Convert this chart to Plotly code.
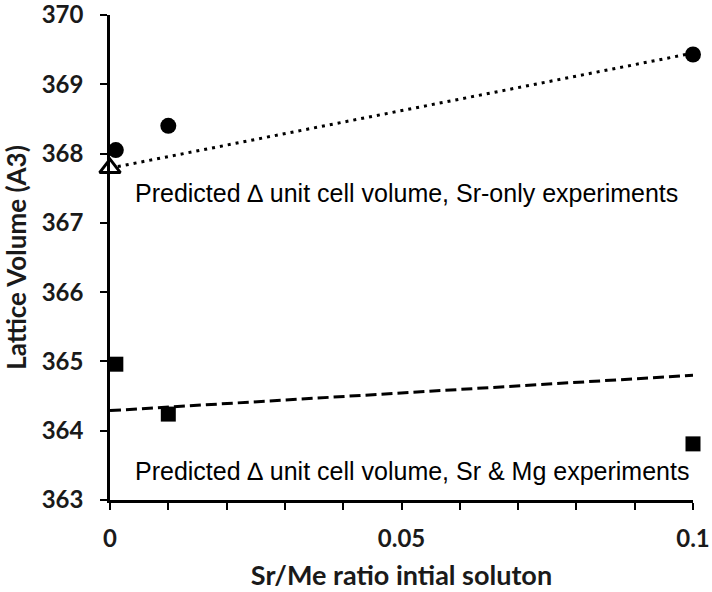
import plotly.graph_objects as go

# Data
sr_x = [0.001, 0.01, 0.1]
sr_y = [368.05, 368.40, 369.43]
srmg_x = [0.001, 0.01, 0.1]
srmg_y = [364.96, 364.24, 363.81]
pred_x = [0.0]
pred_y = [367.79]
sr_trend_x = [0.0, 0.1]
sr_trend_y = [367.79, 369.45]
srmg_trend_x = [0.0, 0.1]
srmg_trend_y = [364.29, 364.80]

fig = go.Figure()
fig.add_trace(go.Scatter(x=sr_trend_x, y=sr_trend_y, mode="lines",
                         line=dict(color="black", width=3, dash="3px,5px"),
                         cliponaxis=False, showlegend=False))
fig.add_trace(go.Scatter(x=srmg_trend_x, y=srmg_trend_y, mode="lines",
                         line=dict(color="black", width=3, dash="11px,5px"),
                         cliponaxis=False, showlegend=False))
fig.add_trace(go.Scatter(x=sr_x, y=sr_y, mode="markers",
                         marker=dict(symbol="circle", size=16, color="black"),
                         cliponaxis=False, showlegend=False))
fig.add_trace(go.Scatter(x=srmg_x, y=srmg_y, mode="markers",
                         marker=dict(symbol="square", size=15, color="black"),
                         cliponaxis=False, showlegend=False))
fig.add_trace(go.Scatter(x=pred_x, y=pred_y, mode="markers",
                         marker=dict(symbol="triangle-up", size=18, color="white",
                                     line=dict(color="black", width=3)),
                         cliponaxis=False, showlegend=False))

ann_font = dict(family="Liberation Sans, Arial, sans-serif", size=25, color="black")
fig.add_annotation(x=0.0039, y=367.43, xref="x", yref="y", xanchor="left", yanchor="middle",
                   text="Predicted \u2206 unit cell volume, Sr-only experiments",
                   showarrow=False, font=ann_font)
fig.add_annotation(x=0.0039, y=363.42, xref="x", yref="y", xanchor="left", yanchor="middle",
                   text="Predicted \u2206 unit cell volume, Sr & Mg experiments",
                   showarrow=False, font=ann_font)

tick_font = dict(family="Lato, sans-serif", size=24, color="#1a1a1a", weight="bold")
title_font = dict(family="Lato, sans-serif", size=26, color="#1a1a1a", weight="bold")
fig.update_layout(
    width=712, height=592,
    margin=dict(l=110, r=19, t=15, b=92),
    paper_bgcolor="white", plot_bgcolor="white",
    font=dict(family="Lato, sans-serif", color="#1a1a1a"),
    xaxis=dict(range=[0, 0.1], tickmode="array", tickvals=[0, 0.05, 0.1],
               ticktext=["0", "0.05", "0.1"], automargin=False, ticklabeloverflow="allow",
               showgrid=False, zeroline=False, showline=True, linecolor="black", linewidth=2.5,
               ticks="outside", ticklen=7, tickwidth=2, tickcolor="black",
               minor=dict(dtick=0.01, tick0=0, ticks="outside", ticklen=7, tickwidth=2,
                          tickcolor="black", showgrid=False),
               tickfont=tick_font, ticklabelstandoff=8,
               title=dict(text="Sr/Me ratio intial soluton",
                          font=dict(family="Lato, sans-serif", size=27, color="#1a1a1a", weight="bold"),
                          standoff=16)),
    yaxis=dict(range=[363, 370], dtick=1, tick0=363, automargin=False, ticklabeloverflow="allow",
               showgrid=False, zeroline=False, showline=True, linecolor="black", linewidth=2.5,
               ticks="outside", ticklen=7, tickwidth=2, tickcolor="black",
               tickfont=tick_font, ticklabelstandoff=12,
               title=dict(text="Lattice Volume (A3)", font=title_font, standoff=10)),
)

fig.write_html("out.html")
